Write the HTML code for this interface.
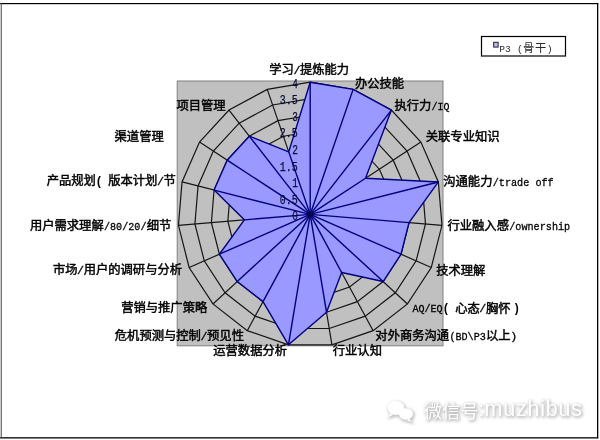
<!DOCTYPE html>
<html lang="zh">
<head>
<meta charset="utf-8">
<title>P3（骨干）能力雷达图</title>
<style>
html,body{margin:0;padding:0;background:#fff;}
body{width:600px;height:440px;overflow:hidden;font-family:"Liberation Sans",sans-serif;}
svg{display:block;will-change:transform;}
svg text{font-family:"Liberation Mono",monospace;}
svg text.wm{font-family:"Liberation Sans",sans-serif;}
svg text.cj{font-family:"Liberation Sans","Noto Sans CJK SC",sans-serif;}
</style>
</head>
<body>
<svg width="600" height="440" viewBox="0 0 600 440" role="img" aria-label="P3（骨干）能力雷达图">
<defs>
<filter id="wmblur" x="-10%" y="-40%" width="120%" height="180%"><feGaussianBlur stdDeviation="1.6"/></filter>
</defs>
<rect x="0" y="0" width="600" height="440" fill="#fff"/>
<rect x="0" y="3" width="598.3" height="1.2" fill="#000"/>
<rect x="0" y="437.2" width="598.3" height="1.3" fill="#000"/>
<rect x="597" y="3" width="1.3" height="435.3" fill="#000"/>
<rect x="0.7" y="3" width="1.1" height="435" fill="#555"/>
<rect x="177.2" y="81" width="265.8" height="264.8" fill="#c0c0c0" stroke="#808080" stroke-width="1"/>
<g fill="none" stroke="#151515" stroke-width="1.2">
<polygon points="310.20,197.88 315.57,198.77 320.35,201.36 324.03,205.36 326.22,210.34 326.67,215.76 325.33,221.04 322.36,225.59 318.07,228.93 312.92,230.70 307.48,230.70 302.33,228.93 298.04,225.59 295.07,221.04 293.73,215.76 294.18,210.34 296.37,205.36 300.05,201.36 304.83,198.77"/>
<polygon points="310.20,181.35 320.93,183.14 330.50,188.32 337.87,196.32 342.24,206.29 343.14,217.13 340.47,227.68 334.52,236.78 325.93,243.47 315.64,247.00 304.76,247.00 294.47,243.47 285.88,236.78 279.93,227.68 277.26,217.13 278.16,206.29 282.53,196.32 289.90,188.32 299.47,183.14"/>
<polygon points="310.20,164.83 326.30,167.51 340.65,175.28 351.70,187.29 358.26,202.23 359.61,218.49 355.60,234.31 346.67,247.98 333.80,258.00 318.36,263.30 302.04,263.30 286.60,258.00 273.73,247.98 264.80,234.31 260.79,218.49 262.14,202.23 268.70,187.29 279.75,175.28 294.10,167.51"/>
<polygon points="310.20,148.30 331.66,151.88 350.80,162.24 365.54,178.25 374.28,198.17 376.07,219.86 370.73,240.95 358.83,259.17 341.66,272.53 321.08,279.60 299.32,279.60 278.74,272.53 261.57,259.17 249.67,240.95 244.33,219.86 246.12,198.17 254.86,178.25 269.60,162.24 288.74,151.88"/>
<polygon points="310.20,131.78 337.03,136.25 360.95,149.20 379.37,169.21 390.30,194.12 392.54,221.22 385.87,247.59 370.99,270.36 349.53,287.07 323.80,295.90 296.60,295.90 270.87,287.07 249.41,270.36 234.53,247.59 227.86,221.22 230.10,194.12 241.03,169.21 259.45,149.20 283.37,136.25"/>
<polygon points="310.20,115.25 342.39,120.62 371.10,136.16 393.21,160.17 406.32,190.06 409.01,222.59 401.00,254.23 383.15,281.55 357.39,301.60 326.52,312.20 293.88,312.20 263.01,301.60 237.25,281.55 219.40,254.23 211.39,222.59 214.08,190.06 227.19,160.17 249.30,136.16 278.01,120.62"/>
<polygon points="310.20,98.73 347.76,104.99 381.25,123.12 407.04,151.13 422.34,186.00 425.48,223.95 416.13,260.87 395.30,292.74 365.26,316.13 329.24,328.50 291.16,328.50 255.14,316.13 225.10,292.74 204.27,260.87 194.92,223.95 198.06,186.00 213.36,151.13 239.15,123.12 272.64,104.99"/>
<polygon points="310.20,82.20 353.13,89.36 391.40,110.08 420.87,142.09 438.35,181.95 441.95,225.32 431.27,267.50 407.46,303.94 373.12,330.67 331.96,344.80 288.44,344.80 247.28,330.67 212.94,303.94 189.13,267.50 178.45,225.32 182.05,181.95 199.53,142.09 229.00,110.08 267.27,89.36"/>
<line x1="310.20" y1="214.40" x2="310.20" y2="82.20"/>
<line x1="310.20" y1="214.40" x2="353.13" y2="89.36"/>
<line x1="310.20" y1="214.40" x2="391.40" y2="110.08"/>
<line x1="310.20" y1="214.40" x2="420.87" y2="142.09"/>
<line x1="310.20" y1="214.40" x2="438.35" y2="181.95"/>
<line x1="310.20" y1="214.40" x2="441.95" y2="225.32"/>
<line x1="310.20" y1="214.40" x2="431.27" y2="267.50"/>
<line x1="310.20" y1="214.40" x2="407.46" y2="303.94"/>
<line x1="310.20" y1="214.40" x2="373.12" y2="330.67"/>
<line x1="310.20" y1="214.40" x2="331.96" y2="344.80"/>
<line x1="310.20" y1="214.40" x2="288.44" y2="344.80"/>
<line x1="310.20" y1="214.40" x2="247.28" y2="330.67"/>
<line x1="310.20" y1="214.40" x2="212.94" y2="303.94"/>
<line x1="310.20" y1="214.40" x2="189.13" y2="267.50"/>
<line x1="310.20" y1="214.40" x2="178.45" y2="225.32"/>
<line x1="310.20" y1="214.40" x2="182.05" y2="181.95"/>
<line x1="310.20" y1="214.40" x2="199.53" y2="142.09"/>
<line x1="310.20" y1="214.40" x2="229.00" y2="110.08"/>
<line x1="310.20" y1="214.40" x2="267.27" y2="89.36"/>
</g>
<g fill="#9999ff" stroke="none">
<polygon points="310.20,82.20 353.13,89.36 391.40,110.08 365.54,178.25 438.35,181.95 409.01,222.59 401.00,254.23 383.15,281.55 341.66,272.53 326.52,312.20 288.44,344.80 263.01,301.60 237.25,281.55 219.40,254.23 244.33,219.86 214.08,190.06 227.19,160.17 249.30,136.16 288.74,151.88"/>
</g>
<g fill="none" stroke="#000080" stroke-width="1.4" stroke-linejoin="round">
<polygon points="310.20,82.20 353.13,89.36 391.40,110.08 365.54,178.25 438.35,181.95 409.01,222.59 401.00,254.23 383.15,281.55 341.66,272.53 326.52,312.20 288.44,344.80 263.01,301.60 237.25,281.55 219.40,254.23 244.33,219.86 214.08,190.06 227.19,160.17 249.30,136.16 288.74,151.88"/>
<line x1="310.20" y1="214.40" x2="310.20" y2="82.20"/>
<line x1="310.20" y1="214.40" x2="353.13" y2="89.36"/>
<line x1="310.20" y1="214.40" x2="391.40" y2="110.08"/>
<line x1="310.20" y1="214.40" x2="365.54" y2="178.25"/>
<line x1="310.20" y1="214.40" x2="438.35" y2="181.95"/>
<line x1="310.20" y1="214.40" x2="409.01" y2="222.59"/>
<line x1="310.20" y1="214.40" x2="401.00" y2="254.23"/>
<line x1="310.20" y1="214.40" x2="383.15" y2="281.55"/>
<line x1="310.20" y1="214.40" x2="341.66" y2="272.53"/>
<line x1="310.20" y1="214.40" x2="326.52" y2="312.20"/>
<line x1="310.20" y1="214.40" x2="288.44" y2="344.80"/>
<line x1="310.20" y1="214.40" x2="263.01" y2="301.60"/>
<line x1="310.20" y1="214.40" x2="237.25" y2="281.55"/>
<line x1="310.20" y1="214.40" x2="219.40" y2="254.23"/>
<line x1="310.20" y1="214.40" x2="244.33" y2="219.86"/>
<line x1="310.20" y1="214.40" x2="214.08" y2="190.06"/>
<line x1="310.20" y1="214.40" x2="227.19" y2="160.17"/>
<line x1="310.20" y1="214.40" x2="249.30" y2="136.16"/>
<line x1="310.20" y1="214.40" x2="288.74" y2="151.88"/>
</g>
<circle cx="310.2" cy="214.4" r="3" fill="#000048"/>
<g font-size="12.6" fill="#0c0c38" stroke="#0c0c38" stroke-width="0.25" text-anchor="end" aria-label="value axis">
<text x="297.8" y="220.10" textLength="5.65" lengthAdjust="spacingAndGlyphs">0</text>
<text x="297.8" y="203.57" textLength="17.95" lengthAdjust="spacingAndGlyphs">0.5</text>
<text x="297.8" y="187.05" textLength="5.65" lengthAdjust="spacingAndGlyphs">1</text>
<text x="297.8" y="170.53" textLength="17.95" lengthAdjust="spacingAndGlyphs">1.5</text>
<text x="297.8" y="154.00" textLength="5.65" lengthAdjust="spacingAndGlyphs">2</text>
<text x="297.8" y="137.47" textLength="17.95" lengthAdjust="spacingAndGlyphs">2.5</text>
<text x="297.8" y="120.95" textLength="5.65" lengthAdjust="spacingAndGlyphs">3</text>
<text x="297.8" y="104.43" textLength="17.95" lengthAdjust="spacingAndGlyphs">3.5</text>
<text x="297.8" y="87.90" textLength="5.65" lengthAdjust="spacingAndGlyphs">4</text>
</g>
<g aria-label="学习/提炼能力"><title>学习/提炼能力</title><text class="cj" x="269.23" y="73.88" font-size="12.3" textLength="24.6" lengthAdjust="spacing" fill="#000" stroke="#000" stroke-width="0.45">学习</text><text x="296.90" y="73.57" font-size="11.69" text-anchor="middle" fill="#000" stroke="#000" stroke-width="0.3">/</text><text class="cj" x="299.98" y="73.88" font-size="12.3" textLength="49.2" lengthAdjust="spacing" fill="#000" stroke="#000" stroke-width="0.45">提炼能力</text></g>
<g aria-label="办公技能"><title>办公技能</title><text class="cj" x="354.95" y="87.88" font-size="12.3" textLength="49.2" lengthAdjust="spacing" fill="#000" stroke="#000" stroke-width="0.45">办公技能</text></g>
<g aria-label="执行力/IQ"><title>执行力/IQ</title><text class="cj" x="394.45" y="110.28" font-size="12.3" textLength="36.9" lengthAdjust="spacing" fill="#000" stroke="#000" stroke-width="0.45">执行力</text><text x="431.59" y="109.97" font-size="11.69" textLength="17.96" lengthAdjust="spacingAndGlyphs" fill="#000" stroke="#000" stroke-width="0.3">/IQ</text></g>
<g aria-label="关联专业知识"><title>关联专业知识</title><text class="cj" x="425.75" y="141.48" font-size="12.3" textLength="73.8" lengthAdjust="spacing" fill="#000" stroke="#000" stroke-width="0.45">关联专业知识</text></g>
<g aria-label="沟通能力/trade off"><title>沟通能力/trade off</title><text class="cj" x="443.25" y="185.88" font-size="12.3" textLength="49.2" lengthAdjust="spacing" fill="#000" stroke="#000" stroke-width="0.45">沟通能力</text><text x="492.69" y="185.57" font-size="11.69" textLength="61.01" lengthAdjust="spacingAndGlyphs" fill="#000" stroke="#000" stroke-width="0.3">/trade off</text></g>
<g aria-label="行业融入感/ownership"><title>行业融入感/ownership</title><text class="cj" x="447.45" y="230.48" font-size="12.3" textLength="61.5" lengthAdjust="spacing" fill="#000" stroke="#000" stroke-width="0.45">行业融入感</text><text x="509.19" y="230.17" font-size="11.69" textLength="61.01" lengthAdjust="spacingAndGlyphs" fill="#000" stroke="#000" stroke-width="0.3">/ownership</text></g>
<g aria-label="技术理解"><title>技术理解</title><text class="cj" x="436.15" y="274.58" font-size="12.3" textLength="49.2" lengthAdjust="spacing" fill="#000" stroke="#000" stroke-width="0.45">技术理解</text></g>
<g aria-label="AQ/EQ（心态/胸怀）"><title>AQ/EQ（心态/胸怀）</title><text x="412.39" y="312.27" font-size="11.69" textLength="30.26" lengthAdjust="spacingAndGlyphs" fill="#000" stroke="#000" stroke-width="0.3">AQ/EQ</text><text x="445.97" y="312.37" font-size="11.92" text-anchor="middle" fill="#000" font-weight="bold">(</text><text class="cj" x="455.20" y="312.58" font-size="12.3" textLength="24.6" lengthAdjust="spacing" fill="#000" stroke="#000" stroke-width="0.45">心态</text><text x="482.87" y="312.27" font-size="11.69" text-anchor="middle" fill="#000" stroke="#000" stroke-width="0.3">/</text><text class="cj" x="485.95" y="312.58" font-size="12.3" textLength="24.6" lengthAdjust="spacing" fill="#000" stroke="#000" stroke-width="0.45">胸怀</text><text x="516.70" y="312.37" font-size="11.92" text-anchor="middle" fill="#000" font-weight="bold">)</text></g>
<g aria-label="对外商务沟通(BD\P3以上)"><title>对外商务沟通(BD\P3以上)</title><text class="cj" x="375.35" y="340.18" font-size="12.3" textLength="73.8" lengthAdjust="spacing" fill="#000" stroke="#000" stroke-width="0.45">对外商务沟通</text><text x="449.39" y="339.87" font-size="11.69" textLength="36.41" lengthAdjust="spacingAndGlyphs" fill="#000" stroke="#000" stroke-width="0.3">(BD\P3</text><text class="cj" x="486.05" y="340.18" font-size="12.3" textLength="24.6" lengthAdjust="spacing" fill="#000" stroke="#000" stroke-width="0.45">以上</text><text x="513.72" y="339.87" font-size="11.69" text-anchor="middle" fill="#000" stroke="#000" stroke-width="0.3">)</text></g>
<g aria-label="行业认知"><title>行业认知</title><text class="cj" x="332.75" y="355.38" font-size="12.3" textLength="49.2" lengthAdjust="spacing" fill="#000" stroke="#000" stroke-width="0.45">行业认知</text></g>
<g aria-label="运营数据分析"><title>运营数据分析</title><text class="cj" x="213.25" y="355.38" font-size="12.3" textLength="73.8" lengthAdjust="spacing" fill="#000" stroke="#000" stroke-width="0.45">运营数据分析</text></g>
<g aria-label="危机预测与控制/预见性"><title>危机预测与控制/预见性</title><text class="cj" x="114.80" y="340.38" font-size="12.3" textLength="86.1" lengthAdjust="spacing" fill="#000" stroke="#000" stroke-width="0.45">危机预测与控制</text><text x="203.98" y="340.07" font-size="11.69" text-anchor="middle" fill="#000" stroke="#000" stroke-width="0.3">/</text><text class="cj" x="207.05" y="340.38" font-size="12.3" textLength="36.9" lengthAdjust="spacing" fill="#000" stroke="#000" stroke-width="0.45">预见性</text></g>
<g aria-label="营销与推广策略"><title>营销与推广策略</title><text class="cj" x="121.15" y="312.38" font-size="12.3" textLength="86.1" lengthAdjust="spacing" fill="#000" stroke="#000" stroke-width="0.45">营销与推广策略</text></g>
<g aria-label="市场/用户的调研与分析"><title>市场/用户的调研与分析</title><text class="cj" x="52.90" y="274.08" font-size="12.3" textLength="24.6" lengthAdjust="spacing" fill="#000" stroke="#000" stroke-width="0.45">市场</text><text x="80.58" y="273.77" font-size="11.69" text-anchor="middle" fill="#000" stroke="#000" stroke-width="0.3">/</text><text class="cj" x="83.65" y="274.08" font-size="12.3" textLength="98.4" lengthAdjust="spacing" fill="#000" stroke="#000" stroke-width="0.45">用户的调研与分析</text></g>
<g aria-label="用户需求理解/80/20/细节"><title>用户需求理解/80/20/细节</title><text class="cj" x="29.90" y="230.38" font-size="12.3" textLength="73.8" lengthAdjust="spacing" fill="#000" stroke="#000" stroke-width="0.45">用户需求理解</text><text x="103.95" y="230.07" font-size="11.69" textLength="42.56" lengthAdjust="spacingAndGlyphs" fill="#000" stroke="#000" stroke-width="0.3">/80/20/</text><text class="cj" x="146.75" y="230.38" font-size="12.3" textLength="24.6" lengthAdjust="spacing" fill="#000" stroke="#000" stroke-width="0.45">细节</text></g>
<g aria-label="产品规划（版本计划/节"><title>产品规划（版本计划/节</title><text class="cj" x="46.70" y="185.38" font-size="12.3" textLength="49.2" lengthAdjust="spacing" fill="#000" stroke="#000" stroke-width="0.45">产品规划</text><text x="98.98" y="185.17" font-size="11.92" text-anchor="middle" fill="#000" font-weight="bold">(</text><text class="cj" x="108.20" y="185.38" font-size="12.3" textLength="49.2" lengthAdjust="spacing" fill="#000" stroke="#000" stroke-width="0.45">版本计划</text><text x="160.48" y="185.07" font-size="11.69" text-anchor="middle" fill="#000" stroke="#000" stroke-width="0.3">/</text><text class="cj" x="163.55" y="185.38" font-size="12.3" fill="#000" stroke="#000" stroke-width="0.45">节</text></g>
<g aria-label="渠道管理"><title>渠道管理</title><text class="cj" x="114.55" y="141.38" font-size="12.3" textLength="49.2" lengthAdjust="spacing" fill="#000" stroke="#000" stroke-width="0.45">渠道管理</text></g>
<g aria-label="项目管理"><title>项目管理</title><text class="cj" x="176.45" y="110.08" font-size="12.3" textLength="49.2" lengthAdjust="spacing" fill="#000" stroke="#000" stroke-width="0.45">项目管理</text></g>
<rect x="481.5" y="36.5" width="84" height="19.5" fill="#fff" stroke="#000" stroke-width="1.2"/>
<rect x="493.7" y="42.3" width="4.4" height="4.8" fill="#b8b8f4" stroke="#202030" stroke-width="1"/>
<g aria-label="P3（骨干）"><title>P3（骨干）</title><text x="499.23" y="52.04" font-size="9.60" textLength="11.45" lengthAdjust="spacingAndGlyphs" fill="#2a2a2a">P3</text><text x="519.83" y="52.13" font-size="9.79" text-anchor="middle" fill="#2a2a2a">(</text><text class="cj" x="523.10" y="52.32" font-size="11.3" textLength="23.2" lengthAdjust="spacing" fill="#2a2a2a">骨干</text><text x="549.57" y="52.13" font-size="9.79" text-anchor="middle" fill="#2a2a2a">)</text></g>
<g aria-label="微信号: muzhibus"><title>微信号: muzhibus</title>
<g fill="#9a9a9a" stroke="#9a9a9a" stroke-width="1.6" stroke-linejoin="round" filter="url(#wmblur)" opacity="0.62" transform="translate(1 1.3)"><g transform="translate(400 411)"><ellipse cx="-4" cy="-3" rx="8.5" ry="7"/><path d="M-9 2 l-3 4 l5 -2z"/><ellipse cx="6" cy="3" rx="7" ry="5.8"/><path d="M9 7.5 l3 3.5 l-5 -1.5z"/></g><text class="cj" x="424" y="417.5" font-size="18" textLength="54.6" lengthAdjust="spacing">微信号</text><text x="478.5" y="416" font-size="20" class="wm">:</text><text x="484.5" y="416" font-size="21.5" textLength="97.5" lengthAdjust="spacing" class="wm">muzhibus</text></g>
<g fill="#fff" stroke="none"><g transform="translate(400 411)"><ellipse cx="-4" cy="-3" rx="8.5" ry="7"/><path d="M-9 2 l-3 4 l5 -2z"/><ellipse cx="6" cy="3" rx="7" ry="5.8"/><path d="M9 7.5 l3 3.5 l-5 -1.5z"/></g><text class="cj" x="424" y="417.5" font-size="18" textLength="54.6" lengthAdjust="spacing">微信号</text><text x="478.5" y="416" font-size="20" class="wm">:</text><text x="484.5" y="416" font-size="21.5" textLength="97.5" lengthAdjust="spacing" class="wm">muzhibus</text></g>
</g>
</svg>
</body>
</html>
